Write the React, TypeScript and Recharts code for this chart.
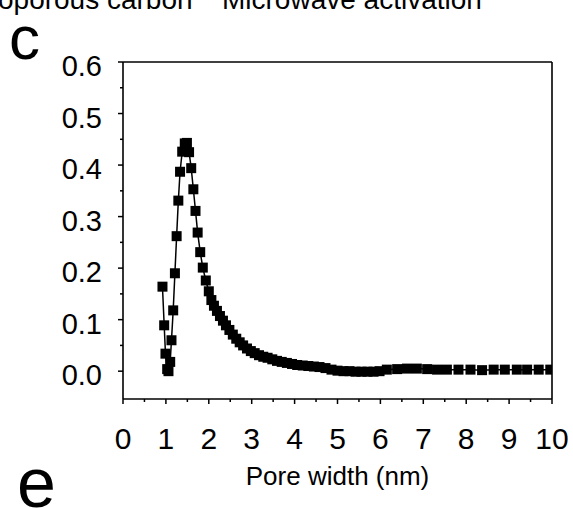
import { LineChart, Line, XAxis, YAxis, ReferenceLine } from "recharts"

// Pore size distribution
const poreWidth = [
  0.92, 0.96, 0.99, 1.03, 1.06, 1.1, 1.13, 1.17, 1.21, 1.25, 1.29, 1.33, 1.38, 1.44, 1.49, 1.54, 1.59, 1.64,
  1.69, 1.74, 1.8, 1.86, 1.93, 2.0, 2.06, 2.12, 2.19, 2.26, 2.33, 2.4, 2.48, 2.56, 2.64, 2.72, 2.8, 2.89,
  2.98, 3.07, 3.17, 3.27, 3.37, 3.48, 3.59, 3.7, 3.82, 3.94, 4.06, 4.19, 4.32, 4.45, 4.58, 4.72, 4.86, 5.0,
  5.14, 5.28, 5.42, 5.56, 5.7, 5.84, 5.98, 6.15, 6.39, 6.62, 6.85, 7.09, 7.32, 7.55, 7.82, 8.1, 8.37, 8.64,
  8.9, 9.18, 9.42, 9.69, 9.96,
]
const poreVolume = [
  0.164, 0.089, 0.034, 0.004, 0.0, 0.018, 0.06, 0.118, 0.19, 0.262, 0.331, 0.387, 0.426, 0.442, 0.443, 0.425,
  0.394, 0.353, 0.311, 0.269, 0.231, 0.201, 0.176, 0.155, 0.138, 0.127, 0.117, 0.107, 0.098, 0.089, 0.08,
  0.071, 0.063, 0.056, 0.05, 0.044, 0.039, 0.035, 0.031, 0.028, 0.026, 0.023, 0.02, 0.018, 0.016, 0.014,
  0.012, 0.011, 0.01, 0.009, 0.008, 0.006, 0.003, 0.001, 0.0, 0.0, -0.001, -0.001, -0.001, -0.001, 0.0,
  0.003, 0.004, 0.005, 0.005, 0.004, 0.003, 0.003, 0.003, 0.003, 0.002, 0.003, 0.003, 0.003, 0.003, 0.003,
  0.003,
]

const xTicks = [0, 0.5, 1, 1.5, 2, 2.5, 3, 3.5, 4, 4.5, 5, 5.5, 6, 6.5, 7, 7.5, 8, 8.5, 9, 9.5, 10]
const yTicks = [0, 0.05, 0.1, 0.15, 0.2, 0.25, 0.3, 0.35, 0.4, 0.45, 0.5, 0.55, 0.6]

const data = poreWidth.map((w, i) => ({ w, v: poreVolume[i] }))

const FONT = '"Liberation Sans", Arial, sans-serif'

function SquareDot(props: any) {
  const { cx, cy } = props
  if (cx == null || cy == null) return null
  return <rect x={cx - 5} y={cy - 5} width={10} height={10} fill="#000" />
}

function YTick(props: any) {
  const { x, y, payload } = props
  const major = Math.round(payload.value * 100) % 10 === 0
  return (
    <g>
      <line x1={x - (major ? 5 : 3)} x2={x} y1={y} y2={y} stroke="#000" strokeWidth={1.5} />
      {major && (
        <text x={x - 21} y={y + 4} dy="0.35em" textAnchor="end" fontSize={29} fontFamily={FONT} fill="#000">
          {payload.value.toFixed(1)}
        </text>
      )}
    </g>
  )
}

function XTick(props: any) {
  const { x, y, payload } = props
  const major = Number.isInteger(payload.value)
  return (
    <g>
      <line x1={x} x2={x} y1={y} y2={y + (major ? 5 : 3)} stroke="#000" strokeWidth={1.5} />
      {major && (
        <text x={x} y={y + 50} textAnchor="middle" fontSize={30} fontFamily={FONT} fill="#000">
          {payload.value}
        </text>
      )}
    </g>
  )
}

export default function App() {
  return (
    <div style={{ position: "absolute", left: 0, top: 0, width: 573, height: 508, background: "#fff", overflow: "hidden" }}>
      <LineChart width={573} height={508} data={data} margin={{ top: 62, right: 21, bottom: 9, left: 0 }}>
        <XAxis
          dataKey="w"
          type="number"
          domain={[0, 10]}
          ticks={xTicks}
          interval={0}
          allowDataOverflow
          height={100}
          tickSize={0}
          tickMargin={0}
          tickLine={false}
          tick={<XTick />}
          axisLine={{ stroke: "#000", strokeWidth: 1.6 }}
          label={{ value: "Pore width (nm)", position: "insideBottom", offset: 14, fontSize: 26, fontFamily: FONT, fill: "#000" }}
        />
        <YAxis
          type="number"
          domain={[-0.054, 0.6]}
          ticks={yTicks}
          interval={0}
          allowDataOverflow
          width={123}
          tickSize={0}
          tickMargin={0}
          tickLine={false}
          tick={<YTick />}
          axisLine={{ stroke: "#000", strokeWidth: 1.6 }}
        />
        <ReferenceLine y={0.6} stroke="#000" strokeWidth={1.6} />
        <ReferenceLine x={10} stroke="#000" strokeWidth={1.6} />
        <Line
          type="linear"
          dataKey="v"
          stroke="#000"
          strokeWidth={1.5}
          dot={<SquareDot />}
          activeDot={false}
          isAnimationActive={false}
        />
      </LineChart>
      <svg width={573} height={508} style={{ position: "absolute", left: 0, top: 0, pointerEvents: "none" }}>
        <text x={-2} y={9} fontSize={28} fontFamily={FONT} fill="#000">oporous carbon</text>
        <text x={222} y={9} fontSize={28} fontFamily={FONT} fill="#000">Microwave activation</text>
        <text x={9} y={59} fontSize={62} fontFamily={FONT} fill="#000">c</text>
        <text x={17} y={507} fontSize={70} fontFamily={FONT} fill="#000">e</text>
      </svg>
    </div>
  )
}
